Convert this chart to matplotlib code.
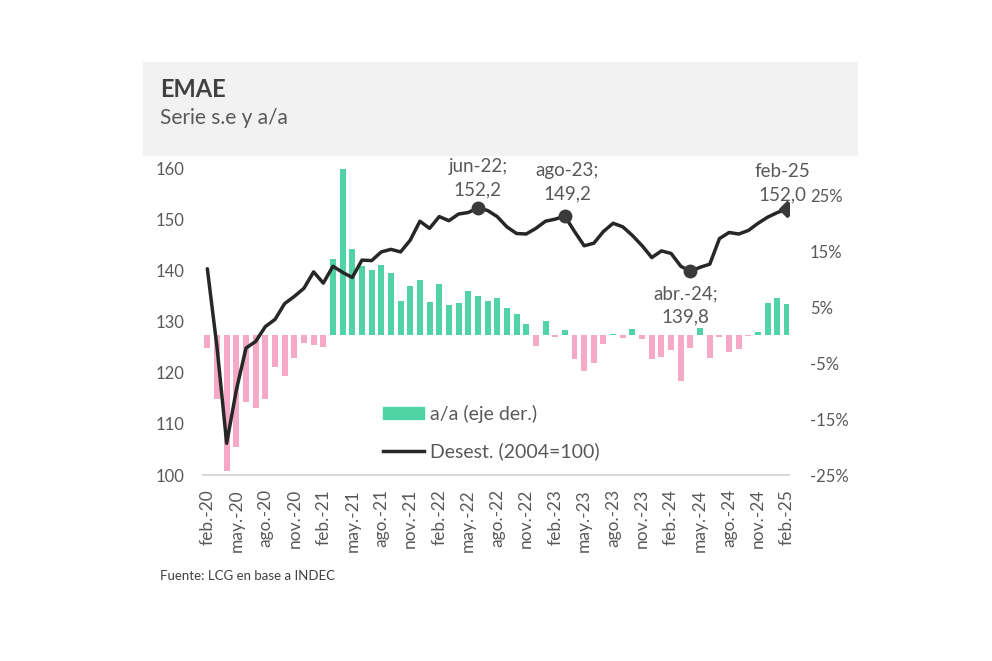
import matplotlib
matplotlib.use("Agg")
import matplotlib.pyplot as plt
from matplotlib.patches import Rectangle, Patch
from matplotlib.lines import Line2D

plt.rcParams['font.family'] = ['Lato', 'DejaVu Sans']

# EMAE desestacionalizado (2004=100), feb-20 a feb-25
desest = [140.3, 125.0, 106.2, 116.6, 124.8, 126.1, 129.0, 130.4, 133.5, 134.9, 136.5, 139.7, 137.5,
          140.8, 139.6, 138.6, 142.0, 141.9, 143.6, 144.1, 143.6, 145.9, 149.6, 148.2, 150.5,
          149.7, 151.0, 151.3, 152.2, 151.7, 150.5, 148.5, 147.2, 147.1, 148.2, 149.6, 150.0,
          150.6, 147.6, 144.8, 145.3, 147.6, 149.2, 148.5, 146.8, 144.8, 142.5, 143.8, 143.3,
          140.8, 139.8, 140.6, 141.2, 146.2, 147.4, 147.1, 147.8, 149.2, 150.4, 151.3, 152.0]

# variacion a/a (%)
var_aa = [-2.3, -11.4, -24.2, -20.0, -12.0, -13.0, -11.3, -5.6, -7.2, -4.0, -1.4, -1.7, -2.0,
          13.75, 29.8, 15.4, 12.4, 11.7, 12.6, 11.1, 6.2, 8.8, 9.9, 6.0, 9.3, 5.4, 5.9, 7.9, 7.1, 6.2,
          6.7, 4.9, 3.8, 2.0, -1.8, 2.6, -0.3, 0.9, -4.3, -6.3, -4.9, -1.5, 0.2, -0.4, 1.2,
          -0.6, -4.2, -3.8, -2.6, -8.2, -2.3, 1.4, -4.0, -0.2, -3.0, -2.4, -0.1, 0.7, 5.9, 6.7, 5.7]

x_labels = ['feb.-20', 'may.-20', 'ago.-20', 'nov.-20', 'feb.-21', 'may.-21', 'ago.-21', 'nov.-21',
            'feb.-22', 'may.-22', 'ago.-22', 'nov.-22', 'feb.-23', 'may.-23', 'ago.-23', 'nov.-23',
            'feb.-24', 'may.-24', 'ago.-24', 'nov.-24', 'feb.-25']

left_ticks = [100, 110, 120, 130, 140, 150, 160]
right_ticks = [-25, -15, -5, 5, 15, 25]
right_labels = ['-25%', '-15%', '-5%', '5%', '15%', '25%']

anot_idx = [28, 37, 50, 60]
anot_txt = ['jun-22;\n152,2', 'ago-23;\n149,2', 'abr.-24;\n139,8', 'feb-25\n152,0']
anot_off = [(0, 21.6), (1.5, 24.5), (-3.6, -24.5), (-3.6, 18.7)]

VERDE = '#52D3A6'
ROSA = '#F5A9C6'
LINEA = '#262826'
GRIS = '#595959'

W, H = 992, 661
fig = plt.figure(figsize=(W / 100, H / 100), dpi=100)
fig.patch.set_facecolor('white')

# caja del titulo
fig.patches.append(Rectangle((143 / W, 1 - 155 / H), (857 - 143) / W, (155 - 62) / H,
                             transform=fig.transFigure, color='#f2f2f2', zorder=0))
fig.text(160 / W, 1 - 97 / H, 'EMAE', fontsize=17, fontweight='bold', color='#404040', va='baseline')
fig.text(160 / W, 1 - 124 / H, 'Serie s.e y a/a', fontsize=15, color=GRIS, va='baseline')
fig.text(160 / W, 1 - 576 / H, 'Fuente: LCG en base a INDEC', fontsize=9.5, color='#404040', va='center')

ax = fig.add_axes([203 / W, 1 - 475 / H, (789 - 203) / W, (475 - 168) / H])
ax2 = ax.twinx()
ax.set_zorder(ax2.get_zorder() + 1)
ax.patch.set_visible(False)

x = list(range(len(desest)))

colores = [VERDE if v >= 0 else ROSA for v in var_aa]
ax2.bar(x, var_aa, width=0.62, color=colores, zorder=2)
ax2.set_ylim(-25, 30)
ax2.set_yticks(right_ticks)
ax2.set_yticklabels(right_labels)

ax.plot(x, desest, color=LINEA, lw=2.5, solid_joinstyle='round', solid_capstyle='round', zorder=3)
for i, txt, off in zip(anot_idx, anot_txt, anot_off):
    mk = 'D' if i == anot_idx[-1] else 'o'
    ax.plot(i, desest[i], marker=mk, ms=9 if mk == 'o' else 8, color='#3a3a3a', zorder=4)
    ax.annotate(txt, xy=(i, desest[i]), xytext=off, textcoords='offset points',
                ha='center', va='center', fontsize=13.5, color=GRIS, linespacing=1.45)

ax.set_ylim(100, 160)
ax.set_yticks(left_ticks)
ax.set_xlim(-0.45, 60.2)
ax.set_xticks(range(0, len(desest), 3))
ax.set_xticklabels(x_labels, rotation=90)

for a in (ax, ax2):
    for s in a.spines.values():
        s.set_visible(False)
ax.spines['bottom'].set_visible(True)
ax.spines['bottom'].set_color('#d9d9d9')
ax.spines['bottom'].set_linewidth(1.5)

ax.tick_params(axis='y', length=0, labelsize=12, labelcolor=GRIS, pad=13)
ax.tick_params(axis='x', length=0, labelsize=12.5, labelcolor=GRIS, pad=10)
ax2.tick_params(axis='y', length=0, labelsize=12, labelcolor=GRIS, pad=15)

handles = [Patch(color=VERDE), Line2D([], [], color=LINEA, lw=2.5)]
ax.legend(handles, ['a/a (eje der.)', 'Desest. (2004=100)'], loc='upper left',
          bbox_to_anchor=(383 / W, 1 - 405 / H), bbox_transform=fig.transFigure,
          frameon=False, fontsize=14, labelcolor=GRIS, borderpad=0, borderaxespad=0,
          handlelength=2.1, handletextpad=0.3, labelspacing=1.0, handleheight=0.55)

fig.savefig('out.png', dpi=100)
